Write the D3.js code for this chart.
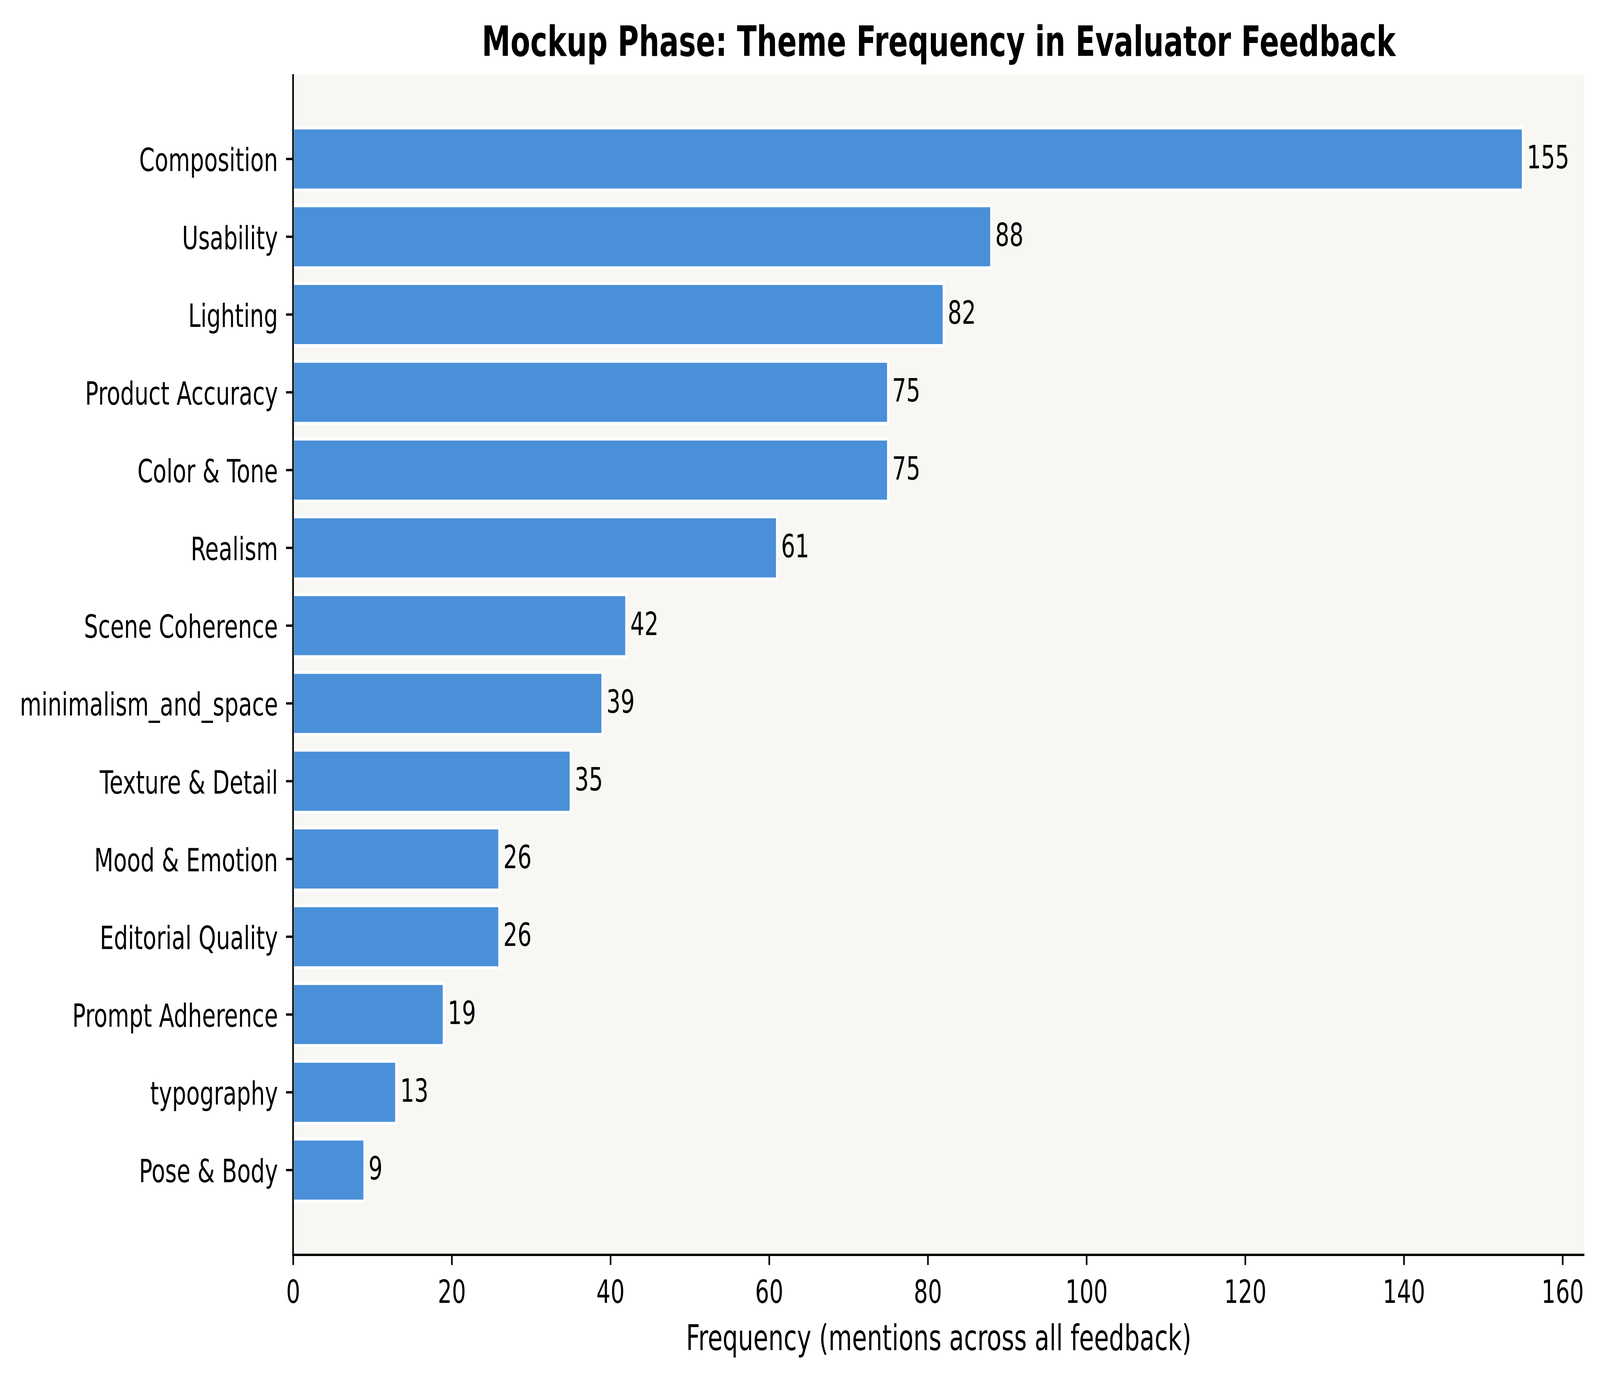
<!DOCTYPE html>
<html>
<head>
<meta charset="utf-8">
<script src="https://cdn.jsdelivr.net/npm/d3@7"></script>
<style>
  html, body { margin: 0; padding: 0; width: 100%; height: 100%; overflow: hidden; background: #fff; }
  svg { display: block; width: 100vw; height: 100vh; font-family: "DejaVu Sans", sans-serif; }
</style>
</head>
<body>
<script>
var themes = ["Composition", "Usability", "Lighting", "Product Accuracy", "Color & Tone",
  "Realism", "Scene Coherence", "minimalism_and_space", "Texture & Detail", "Mood & Emotion",
  "Editorial Quality", "Prompt Adherence", "typography", "Pose & Body"];
var mentions = [155, 88, 82, 75, 75, 61, 42, 39, 35, 26, 26, 19, 13, 9];
var xTicks = [0, 20, 40, 60, 80, 100, 120, 140, 160];

var width = 5940, height = 3536;
var plotLeft = 1088, plotRight = 5882, plotTop = 190, plotBottom = 3213;

// drawn in a 5940x3536 box, stretched to fill the window
var svg = d3.select("body").append("svg")
    .attr("viewBox", "0 0 " + width + " " + height)
    .attr("preserveAspectRatio", "none");

var data = themes.map(function(t, i) { return {theme: t, value: mentions[i]}; });

var xScale = d3.scaleLinear().domain([0, d3.max(mentions) * 1.05]).range([plotLeft, plotRight]);
var yScale = d3.scaleBand().domain(themes).range([plotTop, plotBottom])
    .paddingInner(0.2).paddingOuter(0.69);

// plot background
svg.append("rect")
    .attr("x", plotLeft).attr("y", plotTop)
    .attr("width", plotRight - plotLeft).attr("height", plotBottom - plotTop)
    .attr("fill", "#f8f7f4");

// bars
svg.selectAll(".bar")
    .data(data)
    .enter().append("rect")
    .attr("class", "bar")
    .attr("x", xScale(0))
    .attr("y", function(d) { return yScale(d.theme); })
    .attr("width", function(d) { return xScale(d.value) - xScale(0); })
    .attr("height", yScale.bandwidth())
    .attr("fill", "#4a90d9")
    .attr("stroke", "#ffffff")
    .attr("stroke-width", 8);

// value labels
svg.selectAll(".val")
    .data(data)
    .enter().append("text")
    .attr("class", "val")
    .attr("x", function(d) { return xScale(d.value + 0.5); })
    .attr("y", function(d) { return yScale(d.theme) + yScale.bandwidth() / 2; })
    .attr("dy", "0.29em")
    .attr("font-size", 82.5)
    .attr("fill", "#000")
    .text(function(d) { return d.value; });

// x axis
var gx = svg.append("g")
    .attr("transform", "translate(0," + plotBottom + ")")
    .call(d3.axisBottom(xScale).tickValues(xTicks).tickSize(26).tickPadding(38).tickSizeOuter(0));

// y axis
var gy = svg.append("g")
    .attr("transform", "translate(" + plotLeft + ",0)")
    .call(d3.axisLeft(yScale).tickSize(26).tickPadding(30).tickSizeOuter(0));

[gx, gy].forEach(function(g) {
    g.select(".domain").attr("stroke", "#000").attr("stroke-width", 6);
    g.selectAll(".tick line").attr("stroke", "#000").attr("stroke-width", 6);
    g.selectAll(".tick text")
        .attr("font-family", "DejaVu Sans")
        .attr("font-size", 82.5)
        .attr("fill", "#000");
});
gy.selectAll(".tick text").attr("dy", "0.38em");
// spines meet at the corner
gx.select(".domain").attr("d", "M" + (plotLeft - 3) + ",0H" + plotRight);
gy.select(".domain").attr("d", "M0," + plotTop + "V" + (plotBottom + 3));

// axis title
svg.append("text")
    .attr("x", (plotLeft + plotRight) / 2)
    .attr("y", 3457)
    .attr("text-anchor", "middle")
    .attr("font-size", 90)
    .text("Frequency (mentions across all feedback)");

// chart title
svg.append("text")
    .attr("x", (plotLeft + plotRight) / 2)
    .attr("y", 143)
    .attr("text-anchor", "middle")
    .attr("font-size", 107)
    .attr("font-weight", "bold")
    .text("Mockup Phase: Theme Frequency in Evaluator Feedback");
</script>
</body>
</html>
